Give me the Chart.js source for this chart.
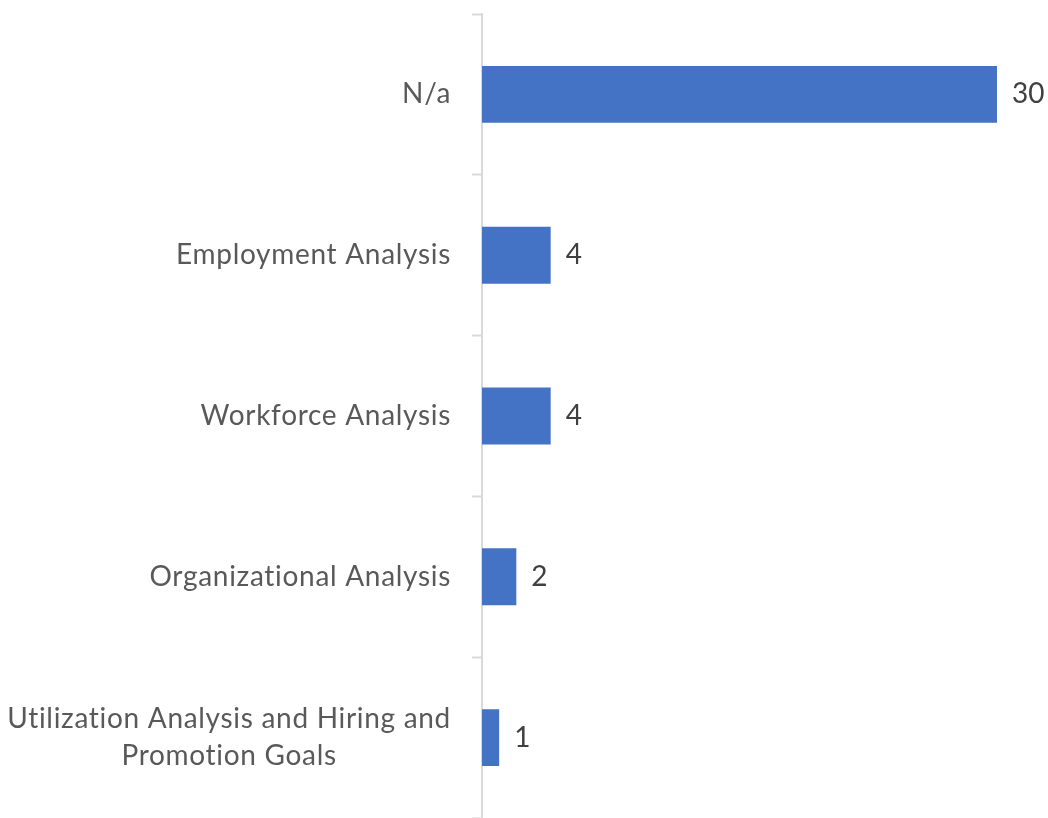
<!DOCTYPE html>
<html>
<head>
<meta charset="utf-8">
<script src="https://cdn.jsdelivr.net/npm/chart.js@4"></script>
<style>
  html, body { margin: 0; padding: 0; background: #ffffff; }
  #wrap { width: 1048px; height: 818px; position: relative; }
</style>
</head>
<body>
<div id="wrap"><canvas id="chart"></canvas></div>
<script>
// Categories (top to bottom) and their counts
const categories = [
  'N/a',
  'Employment Analysis',
  'Workforce Analysis',
  'Organizational Analysis',
  ['Utilization Analysis and Hiring and', 'Promotion Goals']
];
const counts = [30, 4, 4, 2, 1];

const LABEL_FONT = '28px Lato, "Open Sans", sans-serif';
const AXIS_LEFT = 482;

// Category labels drawn beside the axis; multi-line labels are centred on their widest line
const categoryLabels = {
  id: 'categoryLabels',
  afterDraw(chart) {
    const { ctx } = chart;
    const y = chart.scales.y;
    ctx.save();
    ctx.font = LABEL_FONT;
    ctx.letterSpacing = '0.7px';
    ctx.fillStyle = '#595959';
    ctx.textBaseline = 'middle';
    const right = y.right - 31;
    const lineH = 37;
    categories.forEach((lab, i) => {
      const cy = y.getPixelForValue(i);
      const lines = Array.isArray(lab) ? lab : [lab];
      const w = Math.max(...lines.map(l => ctx.measureText(l).width));
      const cx = right - w / 2;
      ctx.textAlign = 'center';
      lines.forEach((l, j) => {
        ctx.fillText(l, cx, cy + (j - (lines.length - 1) / 2) * lineH);
      });
    });
    ctx.restore();
  }
};

// Value labels at the end of each bar
const valueLabels = {
  id: 'valueLabels',
  afterDatasetsDraw(chart) {
    const { ctx } = chart;
    const meta = chart.getDatasetMeta(0);
    ctx.save();
    ctx.font = LABEL_FONT;
    ctx.fillStyle = '#404040';
    ctx.textAlign = 'left';
    ctx.textBaseline = 'middle';
    meta.data.forEach((bar, i) => {
      ctx.fillText(String(counts[i]), bar.x + 15, bar.y);
    });
    ctx.restore();
  }
};

new Chart(document.getElementById('chart'), {
  type: 'bar',
  data: {
    labels: categories.map(c => Array.isArray(c) ? c.join(' ') : c),
    datasets: [{
      data: counts,
      backgroundColor: '#4472C4',
      borderWidth: 0,
      barPercentage: 0.354,
      categoryPercentage: 1.0
    }]
  },
  options: {
    indexAxis: 'y',
    responsive: true,
    maintainAspectRatio: false,
    animation: false,
    layout: { padding: { top: 14, right: 51, bottom: 0, left: 0 } },
    plugins: {
      legend: { display: false },
      tooltip: { enabled: false }
    },
    scales: {
      x: {
        display: false,
        min: 0,
        max: 30
      },
      y: {
        offset: true,
        afterFit(scale) { scale.width = AXIS_LEFT; },
        border: { display: true, color: '#d9d9d9', width: 2 },
        grid: {
          display: true,
          offset: true,
          drawOnChartArea: false,
          drawTicks: true,
          tickLength: 10,
          tickWidth: 2,
          color: '#d9d9d9'
        },
        ticks: { display: false }
      }
    }
  },
  plugins: [categoryLabels, valueLabels]
});
</script>
</body>
</html>
